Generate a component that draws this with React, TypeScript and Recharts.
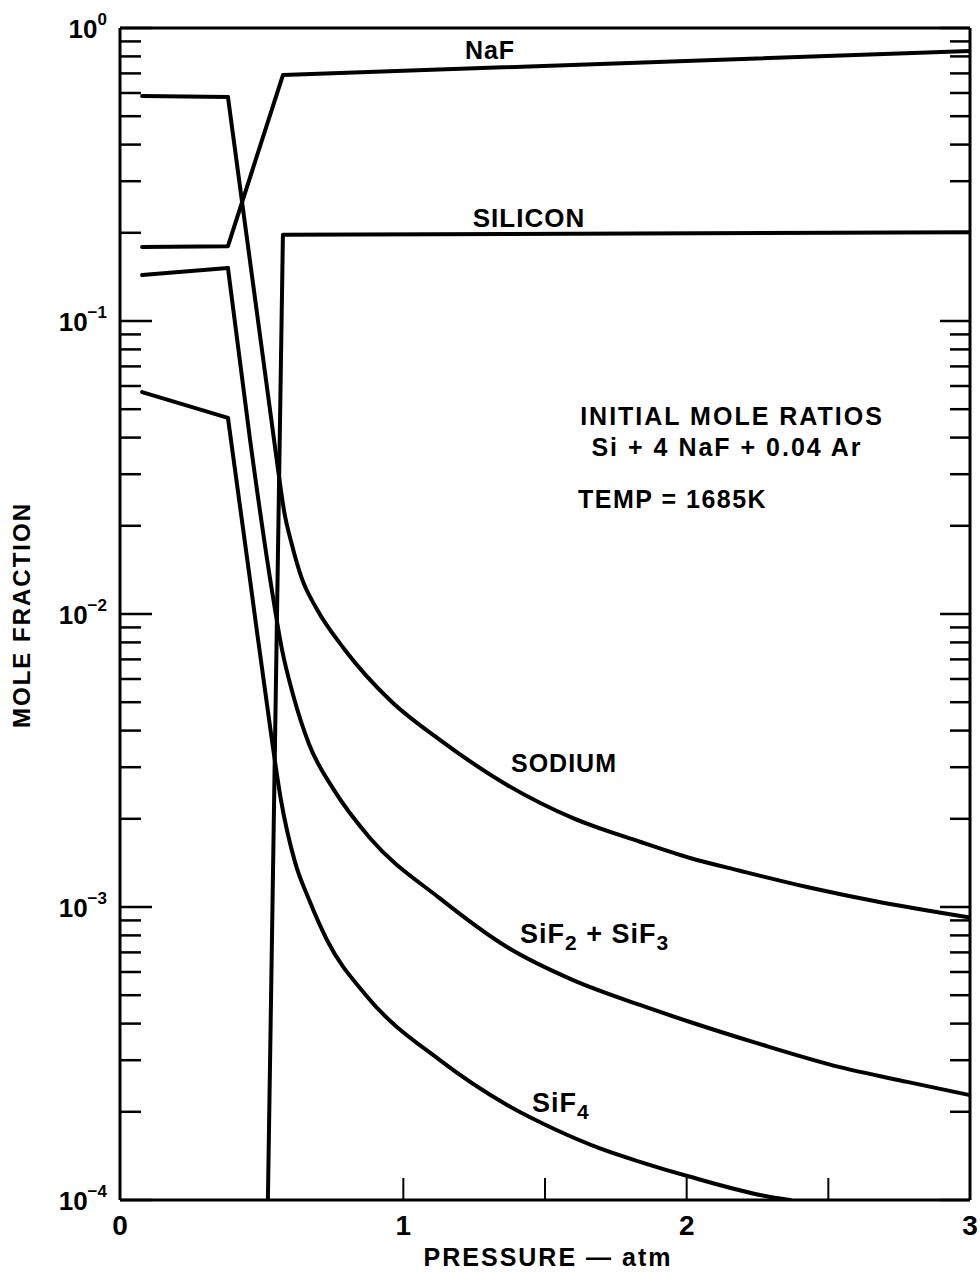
import React from 'react';
import { LineChart, Line, XAxis, YAxis } from 'recharts';

// pressure (atm) and mole fraction
const nafP = [0.078, 0.381, 0.575, 3.0];
const nafMF = [0.179, 0.18, 0.691, 0.835];

const siliconP = [0.522, 0.575, 3.0];
const siliconMF = [0.0001, 0.197, 0.201];

const sodiumP = [0.078, 0.381, 0.558, 0.579, 0.607, 0.642, 0.692, 0.794, 0.956, 1.129, 1.366, 1.599, 1.835, 2.012, 2.188, 2.425, 2.658, 3.0];
const sodiumMF = [0.586, 0.581, 0.031, 0.0225, 0.0172, 0.0132, 0.0105, 0.00754, 0.00505, 0.00372, 0.00261, 0.00201, 0.00167, 0.00147, 0.00133, 0.00117, 0.00105, 0.00092];

const sif23P = [0.078, 0.381, 0.459, 0.536, 0.572, 0.611, 0.667, 0.755, 0.882, 1.129, 1.366, 1.599, 1.835, 2.012, 2.248, 2.541, 2.778, 3.0];
const sif23MF = [0.1435, 0.1517, 0.0393, 0.01208, 0.00754, 0.00529, 0.0036, 0.00251, 0.00172, 0.00107, 0.00073, 0.000563, 0.000463, 0.000405, 0.000343, 0.000284, 0.000253, 0.000228];

const sif4P = [0.078, 0.381, 0.459, 0.536, 0.568, 0.618, 0.667, 0.731, 0.868, 1.129, 1.366, 1.542, 1.694, 1.835, 2.012, 2.305, 2.365];
const sif4MF = [0.0572, 0.0467, 0.01306, 0.00372, 0.00232, 0.00142, 0.00106, 0.00077, 0.0005, 0.0003, 0.000211, 0.000173, 0.00015, 0.000135, 0.00012, 0.000102, 0.0001];

const pressureTicks = [0, 0.5, 1, 1.5, 2, 2.5, 3];
const decades = [0.0001, 0.001, 0.01, 0.1];
const steps = [1, 2, 3, 4, 5, 6, 7, 8, 9];
const fractionTicks = [...decades.flatMap((d) => steps.map((s) => d * s)), 1];

const zip = (p: number[], mf: number[]) => p.map((x, i) => ({ x, y: mf[i] }));

const FONT = '"Liberation Sans", Arial, Helvetica, sans-serif';
const INK = '#000';

const isDecade = (v: number) => {
  const e = Math.log10(v);
  return Math.abs(e - Math.round(e)) < 1e-6;
};

const LeftTick = (props: any) => {
  const { x, y, payload } = props;
  const major = isDecade(payload.value);
  const exp = Math.round(Math.log10(payload.value));
  return (
    <g>
      <line x1={x} y1={y} x2={x + (major ? 32 : 21)} y2={y} stroke={INK} strokeWidth={2.5} />
      {major && (
        <text x={x - 13} y={y + 10} textAnchor="end" fontSize={26} fontWeight="bold" fontFamily={FONT} fill={INK}>
          10
          <tspan dy={-13} fontSize={17}>{exp === 0 ? '0' : '\u2212' + Math.abs(exp)}</tspan>
        </text>
      )}
    </g>
  );
};

const RightTick = (props: any) => {
  const { x, y, payload } = props;
  const major = isDecade(payload.value);
  return <line x1={x - (major ? 30 : 20)} y1={y} x2={x} y2={y} stroke={INK} strokeWidth={2.5} />;
};

const BottomTick = (props: any) => {
  const { x, y, payload } = props;
  const v = payload.value;
  const whole = Number.isInteger(v);
  return (
    <g>
      {v >= 1 && v < 3 && <line x1={x} y1={y} x2={x} y2={y - 22} stroke={INK} strokeWidth={2} />}
      {whole && (
        <text x={x} y={y + 35} textAnchor="middle" fontSize={28} fontWeight="bold" fontFamily={FONT} fill={INK}>
          {v}
        </text>
      )}
    </g>
  );
};

const TopTick = (props: any) => {
  const { x, y, payload } = props;
  const v = payload.value;
  if (v <= 0 || v >= 3) return <g />;
  return <line x1={x} y1={y} x2={x} y2={y + 19} stroke={INK} strokeWidth={2} />;
};

// straight pieces are drawn linear; the falling curves (from the 0.38 atm kink on) smoothed
const sodium = zip(sodiumP, sodiumMF);
const sif23 = zip(sif23P, sif23MF);
const sif4 = zip(sif4P, sif4MF);

const segments = [
  { key: 'naf', data: zip(nafP, nafMF), curve: 'linear' },
  { key: 'silicon', data: zip(siliconP, siliconMF), curve: 'linear' },
  { key: 'sodium-a', data: sodium.slice(0, 2), curve: 'linear' },
  { key: 'sodium-b', data: sodium.slice(1), curve: 'monotoneX' },
  { key: 'sif23-a', data: sif23.slice(0, 2), curve: 'linear' },
  { key: 'sif23-b', data: sif23.slice(1), curve: 'monotoneX' },
  { key: 'sif4-a', data: sif4.slice(0, 2), curve: 'linear' },
  { key: 'sif4-b', data: sif4.slice(1), curve: 'monotoneX' },
];

const txt = { fontFamily: FONT, fontWeight: 'bold' as const, fill: INK };

export default function App() {
  return (
    <div style={{ position: 'absolute', left: 0, top: 0, width: 980, height: 1277, background: '#fff' }}>
      <LineChart width={980} height={1277} margin={{ top: 0, right: 0, bottom: 0, left: 0 }}>
        <XAxis
          xAxisId="b"
          type="number"
          dataKey="x"
          domain={[0, 3]}
          ticks={pressureTicks}
          interval={0}
          height={77}
          tickSize={0}
          tickMargin={0}
          tickLine={false}
          axisLine={{ stroke: INK, strokeWidth: 3 }}
          tick={BottomTick}
          allowDataOverflow
        />
        <XAxis
          xAxisId="t"
          orientation="top"
          type="number"
          domain={[0, 3]}
          ticks={pressureTicks}
          interval={0}
          height={28}
          tickSize={0}
          tickMargin={0}
          tickLine={false}
          axisLine={{ stroke: INK, strokeWidth: 3 }}
          tick={TopTick}
          allowDataOverflow
        />
        <YAxis
          yAxisId="l"
          type="number"
          scale="log"
          domain={[0.0001, 1]}
          ticks={fractionTicks}
          interval={0}
          width={120}
          tickSize={0}
          tickMargin={0}
          tickLine={false}
          axisLine={{ stroke: INK, strokeWidth: 3 }}
          tick={LeftTick}
          allowDataOverflow
        />
        <YAxis
          yAxisId="r"
          orientation="right"
          type="number"
          scale="log"
          domain={[0.0001, 1]}
          ticks={fractionTicks}
          interval={0}
          width={10}
          tickSize={0}
          tickMargin={0}
          tickLine={false}
          axisLine={{ stroke: INK, strokeWidth: 3 }}
          tick={RightTick}
          allowDataOverflow
        />
        {segments.map((s) => (
          <Line
            key={s.key}
            xAxisId="b"
            yAxisId="l"
            data={s.data}
            dataKey="y"
            type={s.curve as any}
            stroke={INK}
            strokeWidth={4}
            strokeLinejoin="round"
            strokeLinecap="round"
            dot={false}
            activeDot={false}
            isAnimationActive={false}
          />
        ))}
      </LineChart>
      <svg width={980} height={1277} style={{ position: 'absolute', left: 0, top: 0, pointerEvents: 'none' }}>
        <text {...txt} x={490} y={59} textAnchor="middle" fontSize={25} letterSpacing={1}>NaF</text>
        <text {...txt} x={529} y={227} textAnchor="middle" fontSize={26} letterSpacing={1}>SILICON</text>
        <text {...txt} x={732} y={425} textAnchor="middle" fontSize={25} letterSpacing={2}>INITIAL MOLE RATIOS</text>
        <text {...txt} x={727} y={456} textAnchor="middle" fontSize={25} letterSpacing={2}>Si + 4 NaF + 0.04 Ar</text>
        <text {...txt} x={578} y={508} textAnchor="start" fontSize={25} letterSpacing={1.5}>TEMP = 1685K</text>
        <text {...txt} x={564} y={772} textAnchor="middle" fontSize={25} letterSpacing={1}>SODIUM</text>
        <text {...txt} x={520} y={943} textAnchor="start" fontSize={27} letterSpacing={1}>
          SiF<tspan dy={7} fontSize={21}>2</tspan>
          <tspan dy={-7}>{'  +  SiF'}</tspan>
          <tspan dy={7} fontSize={21}>3</tspan>
        </text>
        <text {...txt} x={532} y={1112} textAnchor="start" fontSize={27} letterSpacing={1}>
          SiF<tspan dy={7} fontSize={21}>4</tspan>
        </text>
        <text
          {...txt}
          transform="translate(30,615) rotate(-90)"
          textAnchor="middle"
          fontSize={24}
          letterSpacing={2}
        >
          MOLE FRACTION
        </text>
        <text {...txt} x={548} y={1266} textAnchor="middle" fontSize={25} letterSpacing={2}>
          {'PRESSURE \u2014 atm'}
        </text>
      </svg>
    </div>
  );
}
